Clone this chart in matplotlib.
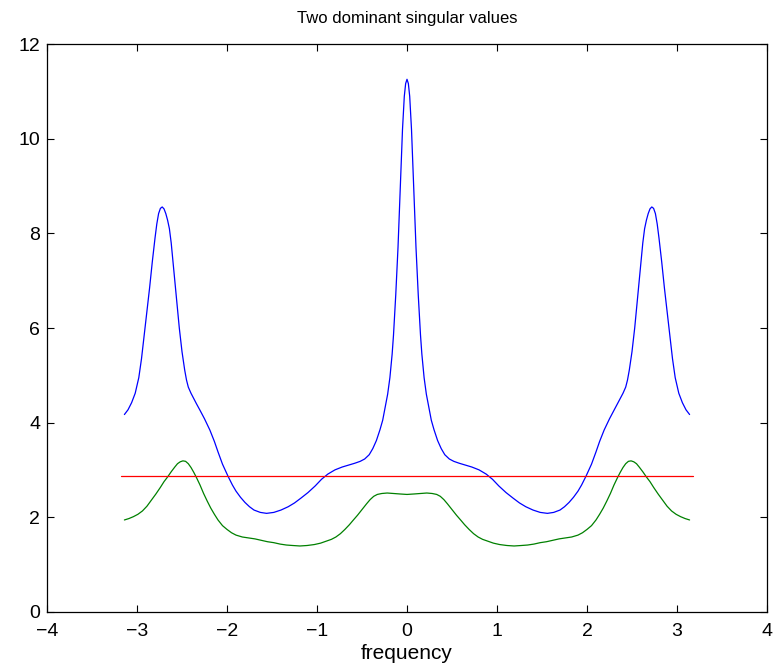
import matplotlib
matplotlib.use("Agg")
import matplotlib.pyplot as plt

# Largest singular value (blue)
freq_blue = [-3.14, -3.10, -3.06, -3.02, -2.98, -2.95, -2.92, -2.89, -2.86, -2.83,
             -2.80, -2.78, -2.76, -2.74, -2.72, -2.70, -2.68, -2.66, -2.64, -2.62,
             -2.60, -2.58, -2.555, -2.53, -2.50, -2.47, -2.45, -2.43, -2.40, -2.37,
             -2.34, -2.30, -2.25, -2.19, -2.14, -2.10, -2.05, -1.99, -1.94, -1.90,
             -1.85, -1.80, -1.75, -1.70, -1.63, -1.56, -1.48, -1.40, -1.32, -1.25,
             -1.18, -1.10, -1.02, -0.95, -0.88, -0.80, -0.72, -0.65, -0.58, -0.52,
             -0.47, -0.42, -0.38, -0.34, -0.30, -0.27, -0.24, -0.215, -0.19, -0.165,
             -0.15, -0.125, -0.10, -0.075, -0.05, -0.03, -0.015, 0.0,
             0.015, 0.03, 0.05, 0.075, 0.10, 0.125, 0.15,
             0.165, 0.19, 0.215, 0.24, 0.27, 0.30, 0.34, 0.38, 0.42, 0.47,
             0.52, 0.58, 0.65, 0.72, 0.80, 0.88, 0.95, 1.02, 1.10, 1.18,
             1.25, 1.32, 1.40, 1.48, 1.56, 1.63, 1.70, 1.75, 1.80, 1.85,
             1.90, 1.94, 1.99, 2.05, 2.10, 2.14, 2.19, 2.25, 2.30, 2.34,
             2.37, 2.40, 2.43, 2.45, 2.47, 2.50, 2.53, 2.555, 2.58, 2.60,
             2.62, 2.64, 2.66, 2.68, 2.70, 2.72, 2.74, 2.76, 2.78, 2.80,
             2.83, 2.86, 2.89, 2.92, 2.95, 2.98, 3.02, 3.06, 3.10, 3.14]
sv_blue = [4.17, 4.27, 4.42, 4.62, 4.95, 5.35, 5.85, 6.35, 6.85, 7.40,
           7.90, 8.20, 8.42, 8.53, 8.56, 8.52, 8.42, 8.28, 8.10, 7.80,
           7.40, 7.00, 6.50, 6.00, 5.50, 5.11, 4.90, 4.75, 4.62, 4.51,
           4.40, 4.26, 4.08, 3.84, 3.60, 3.38, 3.12, 2.87, 2.68, 2.55,
           2.42, 2.31, 2.22, 2.15, 2.10, 2.08, 2.10, 2.15, 2.22, 2.30,
           2.40, 2.52, 2.66, 2.80, 2.91, 3.00, 3.06, 3.10, 3.14, 3.18,
           3.23, 3.32, 3.45, 3.62, 3.85, 4.05, 4.35, 4.60, 4.95, 5.45,
           5.85, 6.70, 7.70, 8.95, 10.20, 10.90, 11.17, 11.26,
           11.17, 10.90, 10.20, 8.95, 7.70, 6.70, 5.85,
           5.45, 4.95, 4.60, 4.35, 4.05, 3.85, 3.62, 3.45, 3.32, 3.23,
           3.18, 3.14, 3.10, 3.06, 3.00, 2.91, 2.80, 2.66, 2.52, 2.40,
           2.30, 2.22, 2.15, 2.10, 2.08, 2.10, 2.15, 2.22, 2.31, 2.42,
           2.55, 2.68, 2.87, 3.12, 3.38, 3.60, 3.84, 4.08, 4.26, 4.40,
           4.51, 4.62, 4.75, 4.90, 5.11, 5.50, 6.00, 6.50, 7.00, 7.40,
           7.80, 8.10, 8.28, 8.42, 8.52, 8.56, 8.53, 8.42, 8.20, 7.90,
           7.40, 6.85, 6.35, 5.85, 5.35, 4.95, 4.62, 4.42, 4.27, 4.17]

# Second singular value (green)
freq_green = [-3.14, -3.09, -3.04, -2.99, -2.94, -2.89, -2.84, -2.79, -2.74, -2.70,
              -2.66, -2.62, -2.58, -2.55, -2.52, -2.49, -2.46, -2.43, -2.40, -2.37,
              -2.34, -2.30, -2.26, -2.22, -2.18, -2.14, -2.10, -2.05, -2.00, -1.95,
              -1.90, -1.83, -1.76, -1.69, -1.62, -1.55, -1.48, -1.41, -1.34, -1.27,
              -1.19, -1.11, -1.03, -0.96, -0.90, -0.84, -0.79, -0.74, -0.69, -0.64,
              -0.60, -0.55, -0.50, -0.45, -0.41, -0.37, -0.33, -0.28, -0.22, -0.15,
              -0.08, 0.0,
              0.08, 0.15, 0.22, 0.28, 0.33, 0.37, 0.41, 0.45, 0.50, 0.55, 0.60,
              0.64, 0.69, 0.74, 0.79, 0.84, 0.90, 0.96, 1.03, 1.11, 1.19,
              1.27, 1.34, 1.41, 1.48, 1.55, 1.62, 1.69, 1.76, 1.83, 1.90,
              1.95, 2.00, 2.05, 2.10, 2.14, 2.18, 2.22, 2.26, 2.30, 2.34,
              2.37, 2.40, 2.43, 2.46, 2.49, 2.52, 2.55, 2.58, 2.62, 2.66,
              2.70, 2.74, 2.79, 2.84, 2.89, 2.94, 2.99, 3.04, 3.09, 3.14]
sv_green = [1.94, 1.97, 2.01, 2.06, 2.13, 2.23, 2.36, 2.49, 2.63, 2.75,
            2.85, 2.96, 3.06, 3.13, 3.17, 3.19, 3.18, 3.13, 3.05, 2.95,
            2.84, 2.68, 2.50, 2.34, 2.19, 2.06, 1.94, 1.82, 1.74, 1.67,
            1.62, 1.58, 1.56, 1.54, 1.51, 1.48, 1.46, 1.43, 1.41, 1.40,
            1.39, 1.40, 1.42, 1.45, 1.49, 1.53, 1.58, 1.65, 1.74, 1.84,
            1.93, 2.04, 2.16, 2.28, 2.37, 2.44, 2.48, 2.50, 2.51, 2.50,
            2.49, 2.48,
            2.49, 2.50, 2.51, 2.50, 2.48, 2.44, 2.37, 2.28, 2.16, 2.04, 1.93,
            1.84, 1.74, 1.65, 1.58, 1.53, 1.49, 1.45, 1.42, 1.40, 1.39,
            1.40, 1.41, 1.43, 1.46, 1.48, 1.51, 1.54, 1.56, 1.58, 1.62,
            1.67, 1.74, 1.82, 1.94, 2.06, 2.19, 2.34, 2.50, 2.68, 2.84,
            2.95, 3.05, 3.13, 3.18, 3.19, 3.17, 3.13, 3.06, 2.96, 2.85,
            2.75, 2.63, 2.49, 2.36, 2.23, 2.13, 2.06, 2.01, 1.97, 1.94]

# Horizontal reference level (red)
freq_red = [-3.18, 3.18]
level_red = [2.86, 2.86]

x_ticks = [-4, -3, -2, -1, 0, 1, 2, 3, 4]
y_ticks = [0, 2, 4, 6, 8, 10, 12]

plt.rcParams['font.family'] = ['Liberation Sans', 'DejaVu Sans']

fig = plt.figure(figsize=(7.73, 6.72), dpi=100)
ax = fig.add_axes([47/773, 1 - 611.7/672, 720/773, 567.4/672])

line_kw = dict(lw=0.9, solid_joinstyle='round', solid_capstyle='round')
ax.plot(freq_blue, sv_blue, color=(0, 0, 1), **line_kw)
ax.plot(freq_green, sv_green, color=(0, 0.5, 0), **line_kw)
ax.plot(freq_red, level_red, color=(1, 0, 0), **line_kw)

ax.set_xlim(-4, 4)
ax.set_ylim(0, 12)
ax.set_xticks(x_ticks)
ax.set_yticks(y_ticks)
ax.tick_params(direction='in', length=5, width=0.8, top=True, right=True,
               labelsize=14, colors='black')
ax.tick_params(axis='x', pad=8)
ax.tick_params(axis='y', pad=5)
for s in ax.spines.values():
    s.set_linewidth(0.9)
ax.set_title("Two dominant singular values", fontsize=12, pad=15)
ax.set_xlabel("frequency", fontsize=15, labelpad=3)

fig.savefig("out.png", dpi=100)
